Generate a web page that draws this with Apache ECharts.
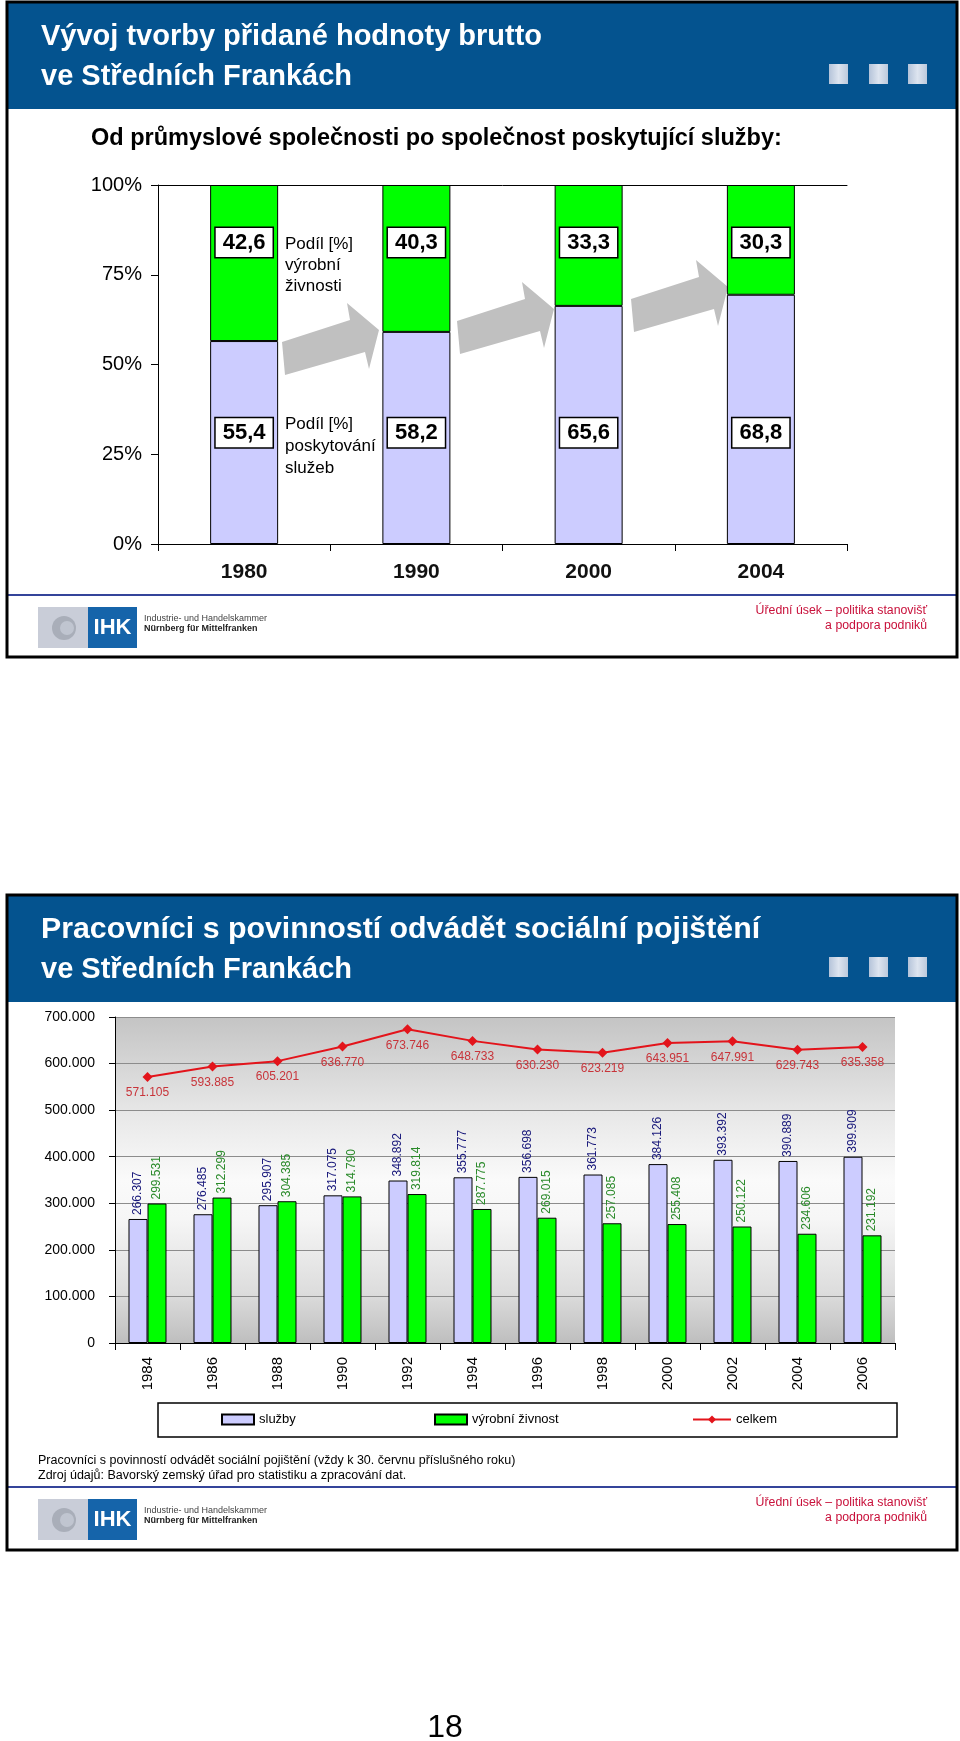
<!DOCTYPE html>
<html>
<head>
<meta charset="utf-8">
<script src="https://cdn.jsdelivr.net/npm/echarts@6/dist/echarts.min.js"></script>
<style>
html,body{margin:0;padding:0;background:#fff;}
#c{width:960px;height:1741px;}
</style>
</head>
<body>
<div id="c"></div>
<script>
// ---------- DATA ----------
const years1 = ['1980', '1990', '2000', '2004'];
const sluzbyShare = [55.4, 58.2, 65.6, 68.8];   // Podíl [%] poskytování služeb
const vyrobaShare = [42.6, 40.3, 33.3, 30.3];   // Podíl [%] výrobní živnosti
const yTicks1 = [0, 25, 50, 75, 100];

const years2 = ['1984', '1986', '1988', '1990', '1992', '1994', '1996', '1998', '2000', '2002', '2004', '2006'];
const sluzby = [266307, 276485, 295907, 317075, 348892, 355777, 356698, 361773, 384126, 393392, 390889, 399909];
const vyroba = [299531, 312299, 304385, 314790, 319814, 287775, 269015, 257085, 255408, 250122, 234606, 231192];
const celkem = [571105, 593885, 605201, 636770, 673746, 648733, 630230, 623219, 643951, 647991, 629743, 635358];
const yTicks2 = [0, 100000, 200000, 300000, 400000, 500000, 600000, 700000];

// ---------- helpers ----------
const FONT = '"Liberation Sans", Arial, sans-serif';
const dots = v => String(v).replace(/\B(?=(\d{3})+(?!\d))/g, '.');
const comma = v => v.toFixed(1).replace('.', ',');
const pct = (a, b) => a.map((v, i) => v / (a[i] + b[i]) * 100);
const sluzbyPct = pct(sluzbyShare, vyrobaShare);
const vyrobaPct = pct(vyrobaShare, sluzbyShare);
const LABEL_Y_HIGH = 84;
const LABEL_Y_LOW = 31;

const chart = echarts.init(document.getElementById('c'), null, {renderer: 'canvas'});

function panel(top, bottom, title1, title2, lineY, stretch1) {
  const els = [];
  els.push({type: 'rect', shape: {x: 7, y: top, width: 950, height: 106}, style: {fill: '#04538F'}, z: 1});
  els.push({type: 'text', x: 41, y: top + 34, scaleX: stretch1, style: {text: title1, fill: '#fff', font: 'bold 29px ' + FONT, verticalAlign: 'middle'}, z: 2});
  els.push({type: 'text', x: 41, y: top + 74, style: {text: title2, fill: '#fff', font: 'bold 29px ' + FONT, verticalAlign: 'middle'}, z: 2});
  [829, 869, 908].forEach(x => {
    els.push({type: 'rect', shape: {x: x, y: top + 61, width: 19, height: 20},
      style: {fill: new echarts.graphic.LinearGradient(0, 0, 1, 0, [{offset: 0, color: '#B4C3D9'}, {offset: 0.5, color: '#DDE4EF'}, {offset: 1, color: '#BCC9DC'}])}, z: 2});
  });
  els.push({type: 'line', shape: {x1: 7, y1: lineY, x2: 957, y2: lineY}, style: {stroke: '#34449A', lineWidth: 2}, z: 2});
  // IHK logo
  const ly = lineY + 12;
  els.push({type: 'rect', shape: {x: 38, y: ly, width: 50, height: 41}, style: {fill: '#C9CDD8'}, z: 2});
  els.push({type: 'circle', shape: {cx: 64, cy: ly + 21, r: 12}, style: {fill: '#A9AEB9'}, z: 3});
  els.push({type: 'circle', shape: {cx: 67, cy: ly + 21, r: 7}, style: {fill: '#C0C5D0'}, z: 3});
  els.push({type: 'rect', shape: {x: 88, y: ly, width: 49, height: 41}, style: {fill: '#1564AA'}, z: 2});
  els.push({type: 'text', x: 112.5, y: ly + 21, style: {text: 'IHK', fill: '#fff', font: 'bold 22px ' + FONT, align: 'center', verticalAlign: 'middle'}, z: 3});
  els.push({type: 'text', x: 144, y: ly + 12, style: {text: 'Industrie- und Handelskammer', fill: '#444', font: '9px ' + FONT, verticalAlign: 'middle'}, z: 3});
  els.push({type: 'text', x: 144, y: ly + 22, style: {text: 'Nürnberg für Mittelfranken', fill: '#222', font: 'bold 9px ' + FONT, verticalAlign: 'middle'}, z: 3});
  els.push({type: 'text', x: 927, y: lineY + 16, style: {text: 'Úřední úsek – politika stanovišť', fill: '#C8103A', font: '12.3px ' + FONT, align: 'right', verticalAlign: 'middle'}, z: 3});
  els.push({type: 'text', x: 927, y: lineY + 31, style: {text: 'a podpora podniků', fill: '#C8103A', font: '12.3px ' + FONT, align: 'right', verticalAlign: 'middle'}, z: 3});
  // border
  els.push({type: 'rect', shape: {x: 7, y: top - 1, width: 950, height: bottom - top + 1}, style: {fill: 'none', stroke: '#000', lineWidth: 3}, z: 5});
  return els;
}

function arrow(x, y) {
  const pts = [[0, 0], [68, -22], [65, -39], [97, -12], [87, 27], [83, 10], [3, 33]];
  return {type: 'polygon', shape: {points: pts.map(p => [x + p[0], y + p[1]])}, style: {fill: '#C0C0C0'}, z: 1};
}

const graphics = [].concat(
  panel(3, 657, 'Vývoj tvorby přidané hodnoty brutto', 've Středních Frankách', 595, 1),
  panel(896, 1550, 'Pracovníci s povinností odvádět sociální pojištění', 've Středních Frankách', 1487, 1.045),
  [
    {type: 'text', x: 91, y: 139, style: {text: 'Od průmyslové společnosti po společnost poskytující služby:', fill: '#000', font: 'bold 23.5px ' + FONT, verticalAlign: 'middle'}, z: 3},
    arrow(282, 342), arrow(457, 321), arrow(631, 299),
    {type: 'text', x: 285, y: 234, style: {text: 'Podíl [%]\nvýrobní\nživnosti', fill: '#000', font: '17px ' + FONT, lineHeight: 21}, z: 3},
    {type: 'text', x: 285, y: 413, style: {text: 'Podíl [%]\nposkytování\nslužeb', fill: '#000', font: '17px ' + FONT, lineHeight: 22}, z: 3},
    {type: 'rect', shape: {x: 158, y: 1403, width: 739, height: 34}, style: {fill: 'none', stroke: '#000', lineWidth: 1.5}, z: 3},
    {type: 'text', x: 38, y: 1461, style: {text: 'Pracovníci s povinností odvádět sociální pojištění (vždy k 30. červnu příslušného roku)', fill: '#000', font: '12.5px ' + FONT, verticalAlign: 'middle'}, z: 3},
    {type: 'text', x: 38, y: 1476, style: {text: 'Zdroj údajů: Bavorský zemský úřad pro statistiku a zpracování dat.', fill: '#000', font: '12.5px ' + FONT, verticalAlign: 'middle'}, z: 3},
    {type: 'text', x: 445, y: 1728, style: {text: '18', fill: '#000', font: '32px ' + FONT, align: 'center', verticalAlign: 'middle'}, z: 3}
  ]
);

const boxLabel = {
  show: true, position: 'inside', color: '#000', fontFamily: FONT, fontWeight: 'bold', fontSize: 22,
  backgroundColor: '#fff', borderColor: '#000', borderWidth: 1.5, padding: [4, 7, 3, 7], lineHeight: 22, opacity: 1
};

const option = {
  animation: false,
  textStyle: {fontFamily: FONT},
  graphic: graphics,
  grid: [
    {left: 158, right: 113, top: 185, bottom: 1741 - 544},
    {left: 115, right: 65, top: 1017, bottom: 1741 - 1343, show: true, borderWidth: 0,
      backgroundColor: new echarts.graphic.LinearGradient(0, 0, 0, 1, [
        {offset: 0, color: '#C4C4C4'}, {offset: 0.3, color: '#E8E8E8'}, {offset: 0.5, color: '#FAFAFA'},
        {offset: 0.62, color: '#F6F6F6'}, {offset: 0.85, color: '#DCDCDC'}, {offset: 1, color: '#BEBEBE'}])}
  ],
  legend: [
    {left: 221, top: 1413, padding: 0, data: ['služby'], icon: 'rect', itemWidth: 32, itemHeight: 10, itemGap: 0,
      textStyle: {fontSize: 13, color: '#000', fontFamily: FONT}},
    {left: 434, top: 1413, padding: 0, data: ['výrobní živnost'], icon: 'rect', itemWidth: 32, itemHeight: 10, itemGap: 0,
      textStyle: {fontSize: 13, color: '#000', fontFamily: FONT}},
    {left: 692, top: 1413, padding: 0, data: ['celkem'], itemWidth: 38, itemHeight: 10, itemGap: 0,
      textStyle: {fontSize: 13, color: '#000', fontFamily: FONT}}
  ],
  xAxis: [
    {gridIndex: 0, type: 'category', data: years1, position: 'bottom',
      axisLine: {lineStyle: {color: '#000', width: 1}},
      axisTick: {show: true, length: 7, inside: false, lineStyle: {color: '#000'}},
      axisLabel: {fontSize: 21, fontWeight: 'bold', color: '#111', margin: 18}},
    {gridIndex: 0, type: 'category', data: years1, position: 'top',
      axisLine: {lineStyle: {color: '#000', width: 1}}, axisTick: {show: false}, axisLabel: {show: false}},
    {gridIndex: 1, type: 'category', data: years2,
      axisLine: {lineStyle: {color: '#000', width: 1}},
      axisTick: {show: true, length: 7, lineStyle: {color: '#000'}},
      axisLabel: {rotate: 90, fontSize: 15, color: '#000', margin: 14}}
  ],
  yAxis: [
    {gridIndex: 0, type: 'value', min: yTicks1[0], max: yTicks1[yTicks1.length - 1], interval: 25,
      axisLine: {show: true, lineStyle: {color: '#000'}},
      axisTick: {show: true, length: 7, lineStyle: {color: '#000'}},
      splitLine: {show: false},
      axisLabel: {formatter: '{value}%', fontSize: 20, color: '#000', margin: 16}},
    {gridIndex: 1, type: 'value', min: yTicks2[0], max: yTicks2[yTicks2.length - 1], interval: 100000,
      axisLine: {show: true, lineStyle: {color: '#000'}},
      axisTick: {show: true, length: 6, lineStyle: {color: '#000'}},
      splitLine: {show: true, lineStyle: {color: '#8C8C8C', width: 1}},
      axisLabel: {formatter: v => v === 0 ? '0' : dots(v), fontSize: 14, color: '#000', margin: 20}}
  ],
  series: [
    // ---- chart 1 ----
    {name: 'podíl služeb', type: 'bar', xAxisIndex: 0, yAxisIndex: 0, stack: 'share', barWidth: 68,
      data: sluzbyPct, itemStyle: {color: '#CCCCFF', borderColor: '#000', borderWidth: 1}},
    {name: 'podíl výroby', type: 'bar', xAxisIndex: 0, yAxisIndex: 0, stack: 'share', barWidth: 68,
      data: vyrobaPct, itemStyle: {color: '#00FF00', borderColor: '#000', borderWidth: 1}},
    {name: 'lbl výroba', type: 'scatter', xAxisIndex: 0, yAxisIndex: 0, symbolSize: 1, z: 5,
      itemStyle: {color: 'rgba(0,0,0,0)', opacity: 1},
      data: vyrobaShare.map((v, i) => [i, LABEL_Y_HIGH]),
      label: Object.assign({}, boxLabel, {formatter: p => comma(vyrobaShare[p.dataIndex])})},
    {name: 'lbl služby', type: 'scatter', xAxisIndex: 0, yAxisIndex: 0, symbolSize: 1, z: 5,
      itemStyle: {color: 'rgba(0,0,0,0)', opacity: 1},
      data: sluzbyShare.map((v, i) => [i, LABEL_Y_LOW]),
      label: Object.assign({}, boxLabel, {formatter: p => comma(sluzbyShare[p.dataIndex])})},
    // ---- chart 2 ----
    {name: 'služby', type: 'bar', xAxisIndex: 2, yAxisIndex: 1, barWidth: 19, barGap: '0%',
      data: sluzby, itemStyle: {color: '#CCCCFF', borderColor: '#000', borderWidth: 1},
      label: {show: true, position: 'top', rotate: 90, align: 'left', verticalAlign: 'middle', distance: 4,
        fontSize: 12, color: '#17177A', formatter: p => dots(p.value)}},
    {name: 'výrobní živnost', type: 'bar', xAxisIndex: 2, yAxisIndex: 1, barWidth: 19, barGap: '0%',
      data: vyroba, itemStyle: {color: '#00FF00', borderColor: '#000', borderWidth: 1},
      label: {show: true, position: 'top', rotate: 90, align: 'left', verticalAlign: 'middle', distance: 4,
        fontSize: 12, color: '#2A8A2A', formatter: p => dots(p.value)}},
    {name: 'celkem', type: 'line', xAxisIndex: 2, yAxisIndex: 1, data: celkem, z: 6,
      symbol: 'diamond', symbolSize: 10,
      lineStyle: {color: '#E3141B', width: 2}, itemStyle: {color: '#E3141B'},
      label: {show: true, position: 'bottom', distance: 5, fontSize: 12, color: '#C8343A', formatter: p => dots(p.value)}}
  ]
};
chart.setOption(option);
</script>
</body>
</html>
